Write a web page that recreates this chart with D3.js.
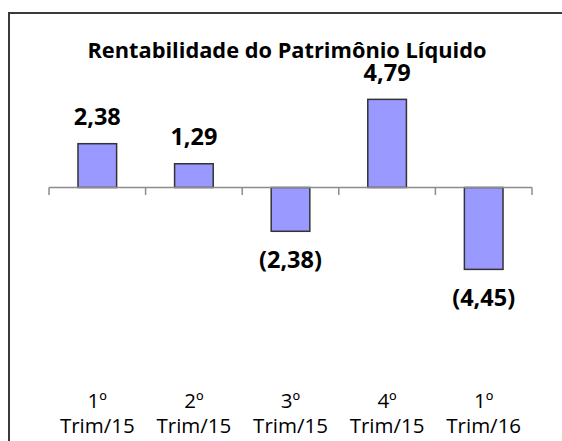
<!DOCTYPE html>
<html><head><meta charset="utf-8">
<script src="https://cdn.jsdelivr.net/npm/d3@7"></script>
<style>html,body{margin:0;padding:0;background:#fff;overflow:hidden}svg{display:block}</style>
</head><body>
<script>
const title = "Rentabilidade do Patrimônio Líquido";
const categories = ["1º Trim/15", "2º Trim/15", "3º Trim/15", "4º Trim/15", "1º Trim/16"];
const values = [2.38, 1.29, -2.38, 4.79, -4.45];
const valueLabels = ["2,38", "1,29", "(2,38)", "4,79", "(4,45)"];

const W = 562, H = 441;
const svg = d3.select("body").append("svg").attr("width", W).attr("height", H);
const font = "'Open Sans', sans-serif";

// frame
svg.append("rect").attr("x", 9).attr("y", 13).attr("width", W + 10).attr("height", H + 10)
  .attr("fill", "#fff").attr("stroke", "#3a3a3a").attr("stroke-width", 2);

const x = d3.scaleBand().domain(categories).range([49, 532]).padding(0);
const y = d3.scaleLinear().domain([-6, 6]).range([297.9, 77.1]);
const bw = x.bandwidth() * 0.4;

// title
svg.append("text").attr("x", 287).attr("y", 58).attr("text-anchor", "middle")
  .attr("font-family", font).attr("font-weight", "bold").attr("font-size", 21.8)
  .attr("fill", "#000").text(title);

// bars
svg.selectAll("rect.bar").data(values).join("rect").attr("class", "bar")
  .attr("x", (d, i) => x(categories[i]) + x.bandwidth() / 2 - bw / 2)
  .attr("y", d => y(Math.max(0, d)))
  .attr("width", bw)
  .attr("height", d => Math.abs(y(d) - y(0)))
  .attr("fill", "#9999ff").attr("stroke", "#333").attr("stroke-width", 1.5);

// axis
const axis = svg.append("g").attr("transform", `translate(0,${y(0)})`);
axis.append("line").attr("x1", x.range()[0]).attr("x2", x.range()[1])
  .attr("stroke", "#8c8c8c").attr("stroke-width", 1.5);
const edges = categories.map(c => x(c)).concat([x.range()[1]]);
axis.selectAll("line.tick").data(edges).join("line").attr("class", "tick")
  .attr("x1", d => d).attr("x2", d => d).attr("y1", 0).attr("y2", 7.5)
  .attr("stroke", "#8c8c8c").attr("stroke-width", 1.5);

// value labels
svg.selectAll("text.val").data(values).join("text").attr("class", "val")
  .attr("x", (d, i) => x(categories[i]) + x.bandwidth() / 2)
  .attr("y", d => d >= 0 ? y(d) - 18.5 : y(d) + 37)
  .attr("text-anchor", "middle").attr("font-family", font).attr("font-weight", "bold")
  .attr("font-size", 23.5).attr("fill", "#000")
  .text((d, i) => valueLabels[i]);

// category labels
const cl = svg.selectAll("text.cat").data(categories).join("text").attr("class", "cat")
  .attr("text-anchor", "middle").attr("font-family", font).attr("font-size", 20.5)
  .attr("fill", "#000");
cl.each(function (c) {
  const parts = c.split(" ");
  const cx = x(c) + x.bandwidth() / 2;
  d3.select(this).selectAll("tspan").data(parts).join("tspan")
    .attr("x", cx).attr("y", (p, j) => 408 + j * 24.5).text(p => p);
});
</script>
</body></html>
